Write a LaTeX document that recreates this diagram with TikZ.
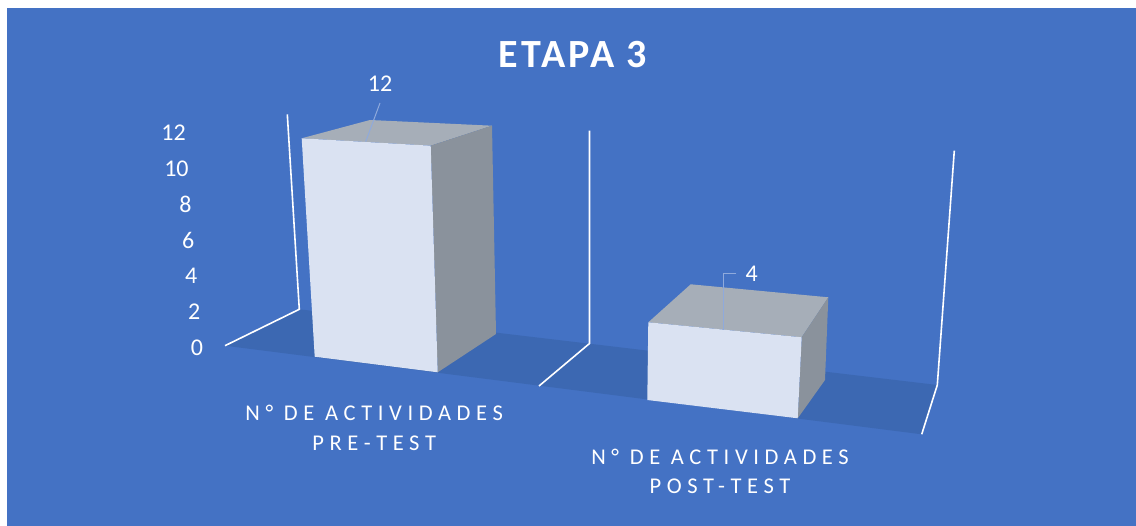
\documentclass[tikz,border=0pt]{standalone}
\usepackage{fontspec}
\setmainfont{Carlito}
\newfontfamily\titlefont[LetterSpace=8]{Carlito}
\newfontfamily\catfont[LetterSpace=25]{Carlito}
\usetikzlibrary{positioning}
\definecolor{chartbg}{HTML}{4472C4}
\definecolor{floorc}{HTML}{3C68B2}
\definecolor{frontc}{HTML}{DAE2F2}
\definecolor{topc}{HTML}{A6AEB8}
\definecolor{sidec}{HTML}{8A929C}
\definecolor{leaderc}{HTML}{8FAADC}

\tikzset{
	wall/.style={draw=white, line width=1.6pt},
	leader/.style={draw=leaderc, line width=1pt},
	ticklabel/.style={text=white, inner sep=0pt, anchor=east, font=\fontsize{24}{28}\selectfont},
	valuelabel/.style={text=white, inner sep=0pt, font=\fontsize{24}{28}\selectfont},
	catlabel/.style={text=white, inner sep=0pt, align=center, font=\catfont\fontsize{22.5}{29.5}\selectfont}
}

\begin{document}
\begin{tikzpicture}[x=1pt, y=-1pt]
		% page and chart area
		\fill[white] (0,0) rectangle (1136,526);
		\fill[chartbg] (7,8) rectangle (1136,526);

		% floor of the chart
		\fill[floorc] (225,345.7) -- (299.3,309.3) -- (937.3,385) -- (921.7,434.3) -- cycle;

		% walls at the category borders
		\draw[wall] (287.3,114.3) -- (299.3,309.3) -- (225,345.7);
		\draw[wall] (589.5,130.7) -- (589.5,343.5) -- (539,386);
		\draw[wall] (954.3,150.7) -- (937.3,385) -- (921.7,434.3);

		% bar pre-test
		\fill[topc] (301.7,138.3) -- (370,120) -- (492,125.7) -- (430.7,145.7) -- cycle;
		\fill[sidec] (430.7,145.7) -- (492,125.7) -- (496,334) -- (437.7,372.3) -- cycle;
		\fill[frontc] (301.7,138.3) -- (430.7,145.7) -- (437.7,372.3) -- (314.7,356.7) -- cycle;

		% bar post-test
		\fill[topc] (648.3,322.3) -- (690.7,284.3) -- (828.3,297.3) -- (801.7,337.3) -- cycle;
		\fill[sidec] (801.7,337.3) -- (828.3,297.3) -- (825,380) -- (797.7,418.3) -- cycle;
		\fill[frontc] (648.3,322.3) -- (801.7,337.3) -- (797.7,418.3) -- (647.3,400) -- cycle;

		% axis values
		\foreach \i [evaluate=\i as \v using int(2*\i)] in {0,...,6}
			\node[ticklabel] (tick\v) at ({203.3-2.9*\i}, {347.7-35.8*\i}) {\v};

		% data labels
		\node[valuelabel] (pretestval) at (380,84) {12};
		\node[valuelabel] (posttestval) at (751.7,273.3) {4};
		\coordinate (pretesttop) at (365.7,141.7);
		\coordinate (posttesttop) at (723.3,330);
		\draw[leader] ([yshift=-11pt]pretestval.south) -- (pretesttop);
		\draw[leader] ([xshift=-9pt]posttestval.west) -| (posttesttop);

		% categories
		\node[catlabel] (pretestcat) at (374.2,428) {N° DE ACTIVIDADES\\PRE-TEST};
		\node[catlabel] (posttestcat) at (720,471.5) {N° DE ACTIVIDADES\\POST-TEST};

		% title
		\node[text=white, inner sep=0pt, font=\titlefont\bfseries\fontsize{40}{46}\selectfont] (title) at (573,55) {ETAPA 3};
	\end{tikzpicture}
\end{document}
